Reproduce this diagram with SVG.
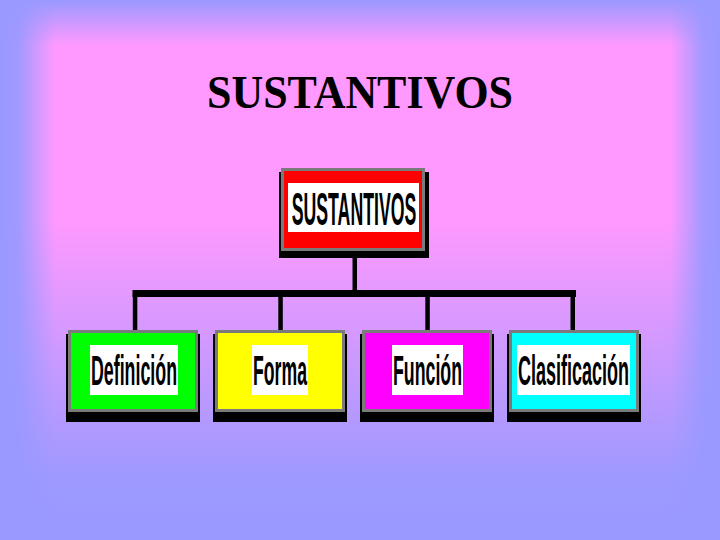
<svg xmlns="http://www.w3.org/2000/svg" width="720" height="540" viewBox="0 0 720 540">
  <defs>
    <linearGradient id="gTop" x1="0" y1="0" x2="0" y2="1">
      <stop offset="0" stop-color="#9999FF" stop-opacity="1"/>
      <stop offset="1" stop-color="#9999FF" stop-opacity="0"/>
    </linearGradient>
    <linearGradient id="gLeft" x1="0" y1="0" x2="1" y2="0">
      <stop offset="0" stop-color="#9999FF" stop-opacity="1"/>
      <stop offset="0.35" stop-color="#9999FF" stop-opacity="0.9"/>
      <stop offset="1" stop-color="#9999FF" stop-opacity="0"/>
    </linearGradient>
    <linearGradient id="gRight" x1="1" y1="0" x2="0" y2="0">
      <stop offset="0" stop-color="#9999FF" stop-opacity="1"/>
      <stop offset="0.35" stop-color="#9999FF" stop-opacity="0.9"/>
      <stop offset="1" stop-color="#9999FF" stop-opacity="0"/>
    </linearGradient>
    <linearGradient id="gBottom" x1="0" y1="1" x2="0" y2="0">
      <stop offset="0" stop-color="#9999FF" stop-opacity="1"/>
      <stop offset="0.2" stop-color="#9999FF" stop-opacity="0.95"/>
      <stop offset="1" stop-color="#9999FF" stop-opacity="0"/>
    </linearGradient>
  </defs>
  <style>
    .shadow { fill: #000000; }
    .box { stroke: #7A7A7A; stroke-width: 3; }
    .lbl { fill: #FFFFFF; }
    .txt { font-family: "Liberation Sans", Arial, sans-serif; font-weight: bold; fill: #000000; text-anchor: middle; }
    .title { font-family: "Liberation Serif", "Times New Roman", serif; font-weight: bold; font-size: 46px; fill: #000000; }
    .conn { fill: #000000; }
  </style>

  <!-- background -->
  <rect x="0" y="0" width="720" height="540" fill="#FF99FF"/>
  <rect x="0" y="0" width="720" height="45" fill="url(#gTop)"/>
  <rect x="0" y="0" width="55" height="540" fill="url(#gLeft)"/>
  <rect x="670" y="0" width="50" height="540" fill="url(#gRight)"/>
  <rect x="0" y="220" width="720" height="320" fill="url(#gBottom)"/>

  <text class="title" x="360" y="108" text-anchor="middle" textLength="306" lengthAdjust="spacingAndGlyphs">SUSTANTIVOS</text>

  <g id="connectors">
    <rect class="conn" x="352.5" y="256" width="4.5" height="38"/>
    <rect class="conn" x="132.5" y="290" width="443.5" height="7"/>
    <rect class="conn" x="132.8" y="293" width="4.5" height="38"/>
    <rect class="conn" x="278.3" y="293" width="4.5" height="38"/>
    <rect class="conn" x="425.3" y="293" width="4.5" height="38"/>
    <rect class="conn" x="570.5" y="293" width="4.5" height="38"/>
  </g>

  <g id="node-sustantivos">
    <rect class="shadow" x="279" y="172" width="150" height="86"/>
    <rect class="box" x="282.5" y="169.5" width="141" height="80" fill="#FF0000"/>
    <rect class="lbl" x="288" y="183" width="131" height="49"/>
    <text class="txt" font-size="46" transform="translate(354 225) scale(0.385 1)">SUSTANTIVOS</text>
  </g>

  <g id="node-definicion">
    <rect class="shadow" x="66" y="334" width="134" height="88"/>
    <rect class="box" x="69.5" y="331.5" width="127" height="79" fill="#00FF00"/>
    <rect class="lbl" x="90" y="345" width="88" height="50"/>
    <text class="txt" font-size="43" transform="translate(134 385) scale(0.414 1)">Definición</text>
  </g>

  <g id="node-forma">
    <rect class="shadow" x="213" y="334" width="134" height="88"/>
    <rect class="box" x="216.5" y="331.5" width="127" height="79" fill="#FFFF00"/>
    <rect class="lbl" x="252" y="345" width="56" height="50"/>
    <text class="txt" font-size="43" transform="translate(280 385) scale(0.41 1)">Forma</text>
  </g>

  <g id="node-funcion">
    <rect class="shadow" x="360" y="334" width="134" height="88"/>
    <rect class="box" x="363.5" y="331.5" width="127" height="79" fill="#FF00FF"/>
    <rect class="lbl" x="392" y="345" width="71" height="50"/>
    <text class="txt" font-size="43" transform="translate(427.5 385) scale(0.413 1)">Función</text>
  </g>

  <g id="node-clasificacion">
    <rect class="shadow" x="507" y="334" width="134" height="88"/>
    <rect class="box" x="510.5" y="331.5" width="127" height="79" fill="#00FFFF"/>
    <rect class="lbl" x="517" y="345" width="113" height="50"/>
    <text class="txt" font-size="43" transform="translate(573.5 385) scale(0.418 1)">Clasificación</text>
  </g>
</svg>
